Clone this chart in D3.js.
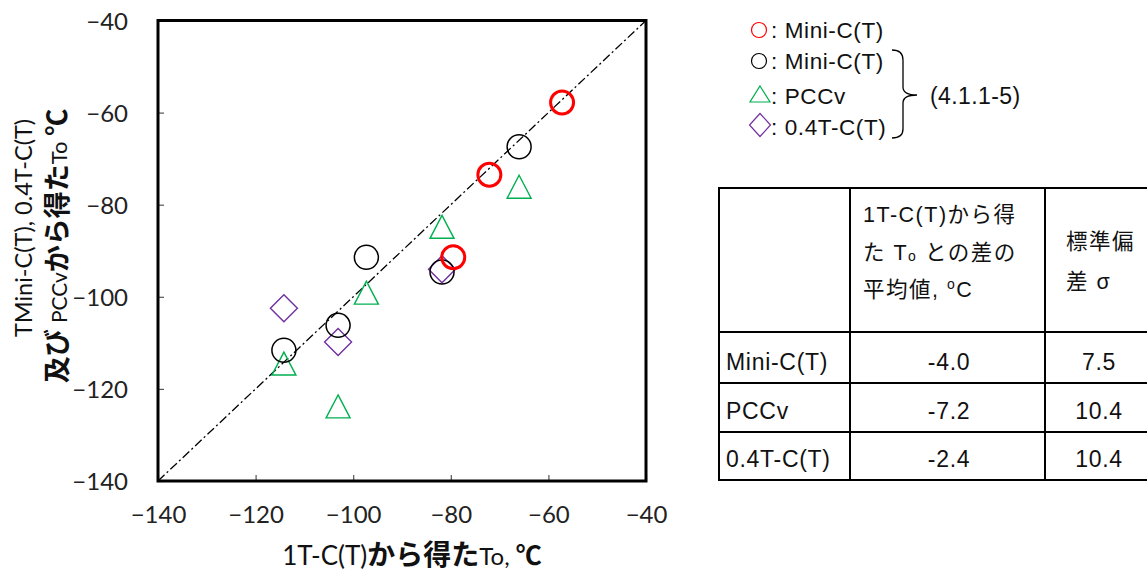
<!DOCTYPE html>
<html>
<head>
<meta charset="utf-8">
<script src="https://cdn.jsdelivr.net/npm/d3@7/dist/d3.min.js"></script>
<style>
  html, body { margin: 0; padding: 0; background: #fff; }
  svg { display: block; }
</style>
</head>
<body>
<svg id="chart" width="1147" height="572"></svg>
<script>
// ---------------- data ----------------
const tickValues = [-140, -120, -100, -80, -60, -40];

const redMiniX = [-57.2, -72.1, -79.5];
const redMiniY = [-57.8, -73.5, -91.4];

const miniX = [-114.2, -103.1, -97.3, -81.8, -66.0];
const miniY = [-111.6, -106.2, -91.4, -94.6, -67.4];

const pccvX = [-114.2, -103.1, -97.3, -81.8, -66.0];
const pccvY = [-114.5, -123.8, -99.1, -84.8, -76.1];

const c04X = [-114.2, -103.1, -81.8];
const c04Y = [-102.5, -109.8, -94.0];

const legendLabels = [": Mini-C(T)", ": Mini-C(T)", ": PCCv", ": 0.4T-C(T)"];
const legendRef = "(4.1.1-5)";

const tableRows = ["Mini-C(T)", "PCCv", "0.4T-C(T)"];
const tableMean = ["-4.0", "-7.2", "-2.4"];
const tableSigma = ["7.5", "10.4", "10.4"];

// ---------------- setup ----------------
const svg = d3.select("#chart");
const LAT = "Lato, 'Open Sans', sans-serif";
const CJK = "'Noto Sans CJK JP', sans-serif";
const ARI = "'Liberation Sans', 'Noto Sans CJK JP', Arial, sans-serif";

const x = d3.scaleLinear().domain([-140, -40]).range([158, 646]);
const y = d3.scaleLinear().domain([-140, -40]).range([481, 20.5]);

// axes
const ax = svg.append("g").attr("transform", `translate(0,${y(-140)})`)
  .call(d3.axisBottom(x).tickValues(tickValues).tickSize(-6).tickPadding(25).tickFormat(d3.format("d")));
const ay = svg.append("g").attr("transform", `translate(${x(-140)},0)`)
  .call(d3.axisLeft(y).tickValues(tickValues).tickSize(-6).tickPadding(30).tickFormat(d3.format("d")));
[ax, ay].forEach(a => {
  a.select(".domain").remove();
  a.selectAll(".tick line").attr("stroke", "#555").attr("stroke-width", 1.2);
  a.selectAll(".tick text").attr("font-family", LAT).attr("font-size", 24).attr("fill", "#222");
});
ay.selectAll(".tick text").attr("dy", "0.36em");

// diagonal 1:1 line
svg.append("line")
  .attr("x1", x(-140)).attr("y1", y(-140)).attr("x2", x(-40)).attr("y2", y(-40))
  .attr("stroke", "#000").attr("stroke-width", 1.3)
  .attr("stroke-dasharray", "9,3,2,3");

// frame
svg.append("rect")
  .attr("x", x(-140)).attr("y", y(-40))
  .attr("width", x(-40) - x(-140)).attr("height", y(-140) - y(-40))
  .attr("fill", "none").attr("stroke", "#000").attr("stroke-width", 3);

// marker helpers
function triPath(w, h) { return `M0,${-h/2}L${w/2},${h/2}L${-w/2},${h/2}Z`; }
function diaPath(a, b) { return `M0,${-b}L${a},0L0,${b}L${-a},0Z`; }

// PCCv triangles
svg.append("g").selectAll("path").data(d3.range(pccvX.length)).join("path")
  .attr("d", triPath(24, 23))
  .attr("transform", i => `translate(${x(pccvX[i])},${y(pccvY[i])})`)
  .attr("fill", "none").attr("stroke", "#00B050").attr("stroke-width", 1.4);

// 0.4T-C(T) diamonds
svg.append("g").selectAll("path").data(d3.range(c04X.length)).join("path")
  .attr("d", diaPath(13.5, 13.5))
  .attr("transform", i => `translate(${x(c04X[i])},${y(c04Y[i])})`)
  .attr("fill", "none").attr("stroke", "#7030A0").attr("stroke-width", 1.4);

// Mini-C(T) black circles
svg.append("g").selectAll("circle").data(d3.range(miniX.length)).join("circle")
  .attr("cx", i => x(miniX[i])).attr("cy", i => y(miniY[i])).attr("r", 12)
  .attr("fill", "none").attr("stroke", "#000").attr("stroke-width", 1.5);

// Mini-C(T) red circles
svg.append("g").selectAll("circle").data(d3.range(redMiniX.length)).join("circle")
  .attr("cx", i => x(redMiniX[i])).attr("cy", i => y(redMiniY[i])).attr("r", 11.5)
  .attr("fill", "none").attr("stroke", "#FF0000").attr("stroke-width", 3);

// x axis title
const xt = svg.append("text").attr("x", 412).attr("y", 565).attr("text-anchor", "middle").attr("fill", "#111");
xt.append("tspan").attr("font-family", LAT).attr("font-size", 26).text("1T-C(T)");
xt.append("tspan").attr("font-family", CJK).attr("font-size", 28).attr("font-weight", "bold").text("から得た");
xt.append("tspan").attr("font-family", LAT).attr("font-size", 24).text("To, ");
xt.append("tspan").attr("font-family", CJK).attr("font-size", 26).attr("font-weight", "bold").text("℃");

// y axis title
const yt1 = svg.append("text").attr("transform", "translate(32,228) rotate(-90)")
  .attr("text-anchor", "middle").attr("font-family", LAT).attr("font-size", 23.5).attr("fill", "#111")
  .text("TMini-C(T), 0.4T-C(T)");
const yt2 = svg.append("text").attr("transform", "translate(67,246) rotate(-90)")
  .attr("text-anchor", "middle").attr("fill", "#111");
yt2.append("tspan").attr("font-family", CJK).attr("font-size", 27).attr("font-weight", "bold").text("及び ");
yt2.append("tspan").attr("font-family", LAT).attr("font-size", 21).text("PCCv");
yt2.append("tspan").attr("font-family", CJK).attr("font-size", 27).attr("font-weight", "bold").text("から得た");
yt2.append("tspan").attr("font-family", LAT).attr("font-size", 22).text("To ");
yt2.append("tspan").attr("font-family", CJK).attr("font-size", 27).attr("font-weight", "bold").text("℃");

// ---------------- legend ----------------
const lg = svg.append("g");
const lgMarkY = [30, 61, 94, 125];
const lgTextY = [37.5, 68.5, 104, 135];
lg.append("circle").attr("cx", 759).attr("cy", lgMarkY[0]).attr("r", 7.5)
  .attr("fill", "none").attr("stroke", "#FF0000").attr("stroke-width", 1.2);
lg.append("circle").attr("cx", 759).attr("cy", lgMarkY[1]).attr("r", 7.5)
  .attr("fill", "none").attr("stroke", "#000").attr("stroke-width", 1.2);
lg.append("path").attr("d", triPath(20, 16)).attr("transform", `translate(760,${lgMarkY[2]})`)
  .attr("fill", "none").attr("stroke", "#00B050").attr("stroke-width", 1.2);
lg.append("path").attr("d", diaPath(10.5, 11.5)).attr("transform", `translate(760,${lgMarkY[3]})`)
  .attr("fill", "none").attr("stroke", "#7030A0").attr("stroke-width", 1.2);
lg.selectAll("text.lab").data(legendLabels).join("text").attr("class", "lab")
  .attr("x", 771).attr("y", (d, i) => lgTextY[i])
  .attr("font-family", ARI).attr("font-size", 22.5).attr("letter-spacing", 0.6).attr("fill", "#111")
  .text(d => d);
lg.append("path")
  .attr("d", "M892,50 Q903,50 903,60 L903,87 Q903,95 917,95 Q903,95 903,103 L903,129 Q903,138 892,138")
  .attr("fill", "none").attr("stroke", "#000").attr("stroke-width", 1.3);
lg.append("text").attr("x", 930).attr("y", 104)
  .attr("font-family", ARI).attr("font-size", 23).attr("letter-spacing", 0.4).attr("fill", "#111")
  .text(legendRef);

// ---------------- table ----------------
const tb = svg.append("g");
const tL = 719, tR = 1150, cols = [850, 1045];
const rowsY = [188, 332, 383, 432, 480];
tb.append("rect").attr("x", tL).attr("y", rowsY[0]).attr("width", tR - tL).attr("height", rowsY[4] - rowsY[0])
  .attr("fill", "#fff").attr("stroke", "#000").attr("stroke-width", 2);
cols.forEach(cx => tb.append("line").attr("x1", cx).attr("x2", cx).attr("y1", rowsY[0]).attr("y2", rowsY[4])
  .attr("stroke", "#000").attr("stroke-width", 2));
rowsY.slice(1, 4).forEach(ry => tb.append("line").attr("x1", tL).attr("x2", tR).attr("y1", ry).attr("y2", ry)
  .attr("stroke", "#000").attr("stroke-width", 2));

// header column 2
const h2 = [222, 260, 297];
const hdr = tb.append("g").attr("font-family", ARI).attr("font-size", 21.5).attr("letter-spacing", 1.5).attr("fill", "#111");
hdr.append("text").attr("x", 863).attr("y", h2[0]).text("1T-C(T)から得");
const l2 = hdr.append("text").attr("x", 863).attr("y", h2[1]);
l2.append("tspan").text("た T");
l2.append("tspan").attr("font-size", 14).attr("dy", 1).text("o");
l2.append("tspan").attr("dy", -1).text(" との差の");
const l3 = hdr.append("text").attr("x", 863).attr("y", h2[2]);
l3.append("tspan").text("平均値, ");
l3.append("tspan").attr("font-size", 14).attr("dy", -8).text("o");
l3.append("tspan").attr("dy", 8).text("C");
hdr.append("text").attr("x", 1066).attr("y", 249).text("標準偏");
hdr.append("text").attr("x", 1066).attr("y", 289).text("差 σ");

// body
const body = tb.append("g").attr("font-family", ARI).attr("font-size", 23).attr("letter-spacing", 0.7).attr("fill", "#111");
const bodyBase = [370, 419, 467];
body.selectAll("text.rl").data(tableRows).join("text").attr("class", "rl")
  .attr("x", 726).attr("y", (d, i) => bodyBase[i]).text(d => d);
body.selectAll("text.mv").data(tableMean).join("text").attr("class", "mv")
  .attr("x", 949).attr("y", (d, i) => bodyBase[i]).attr("text-anchor", "middle").text(d => d);
body.selectAll("text.sv").data(tableSigma).join("text").attr("class", "sv")
  .attr("x", 1099).attr("y", (d, i) => bodyBase[i]).attr("text-anchor", "middle").text(d => d);
</script>
</body>
</html>
